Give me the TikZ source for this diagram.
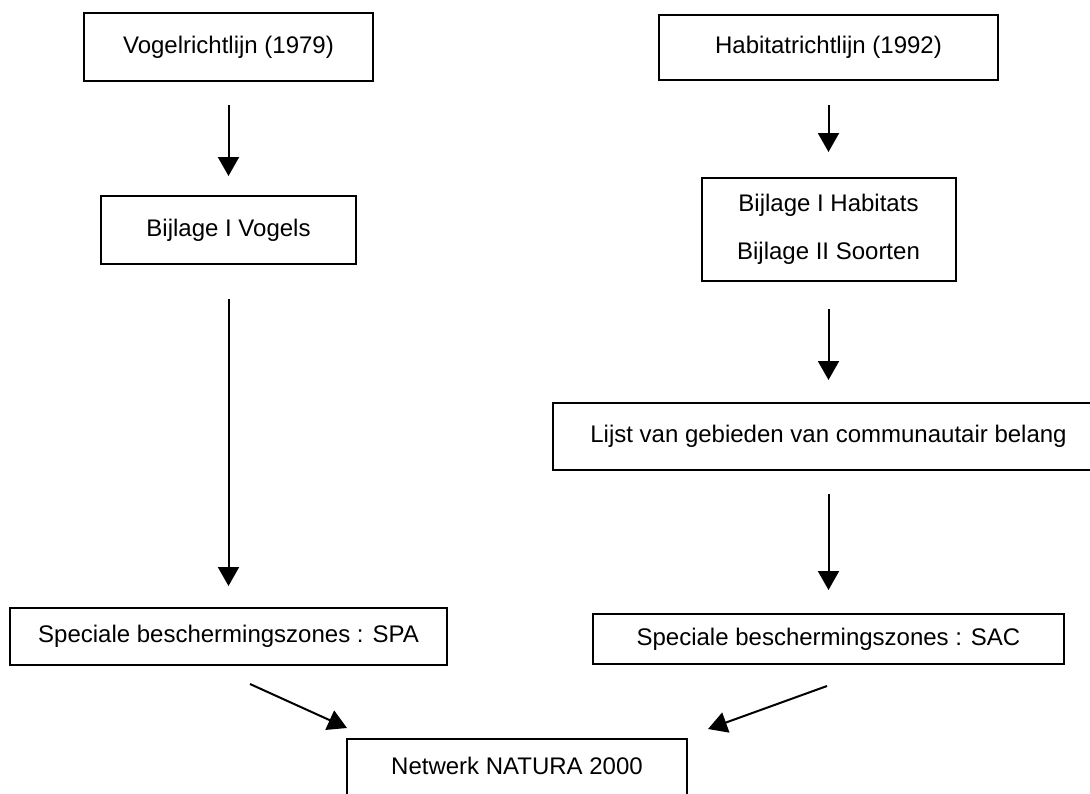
\documentclass[tikz,border=0pt]{standalone}
\usepackage{fontspec}
\setmainfont{Liberation Sans}
\usepackage{tikz}
\usetikzlibrary{positioning, arrows.meta, calc}
\tikzset{
    box/.style={draw, line width=2pt, inner sep=0pt, align=center, font=\fontsize{24pt}{29pt}\selectfont},
    flow/.style={->, line width=2pt},
    >={Triangle[length=19pt, width=21pt]},
}

\begin{document}
\begin{tikzpicture}[x=1pt, y=1pt]
    \useasboundingbox (0,0) rectangle (1090,-793);
    \clip (0,0) rectangle (1090,-793);

    % left column
    \node[box, minimum width=289pt, minimum height=68pt] (vr) at (228.5,-47) {Vogelrichtlijn (1979)};
    \node[box, below=113pt of vr, minimum width=255pt, minimum height=68pt] (bv) {Bijlage I Vogels};
    \node[box, below=342pt of bv, minimum width=437pt, minimum height=57pt] (spa) {Speciale beschermingszones : SPA};

    % right column
    \node[box, minimum width=339pt, minimum height=65pt] (hr) at (828.5,-47.5) {Habitatrichtlijn (1992)};
    \node[box, below=96pt of hr, minimum width=254pt, minimum height=103pt] (bh) {Bijlage I Habitats\\[19pt]Bijlage II Soorten};
    \node[box, below=120pt of bh, minimum width=552pt, minimum height=67pt] (lijst) {Lijst van gebieden van communautair belang};
    \node[box, below=142pt of lijst, minimum width=471pt, minimum height=50pt] (sac) {Speciale beschermingszones : SAC};

    % bottom box, cut off by the page
    \node[box, anchor=north, minimum width=340pt, minimum height=70pt, text depth=16pt] (net) at (517,-738) {Netwerk NATURA 2000};

    \draw[flow, shorten <=23pt, shorten >=19pt] (vr) -- (bv);
    \draw[flow, shorten <=34pt, shorten >=21pt] (bv) -- (spa);
    \draw[flow, shorten <=24pt, shorten >=25pt] (hr) -- (bh);
    \draw[flow, shorten <=27pt, shorten >=22pt] (bh) -- (lijst);
    \draw[flow, shorten <=23pt, shorten >=23pt] (lijst) -- (sac);

    \coordinate (spa-out) at ($(spa.south)+(21.5,-18)$);
    \coordinate (net-l) at ($(net.north west)+(1,10)$);
    \coordinate (sac-out) at ($(sac.south)+(-1.5,-21)$);
    \coordinate (net-r) at ($(net.north east)+(20,9)$);
    \draw[flow] (spa-out) -- (net-l);
    \draw[flow] (sac-out) -- (net-r);
\end{tikzpicture}
\end{document}
